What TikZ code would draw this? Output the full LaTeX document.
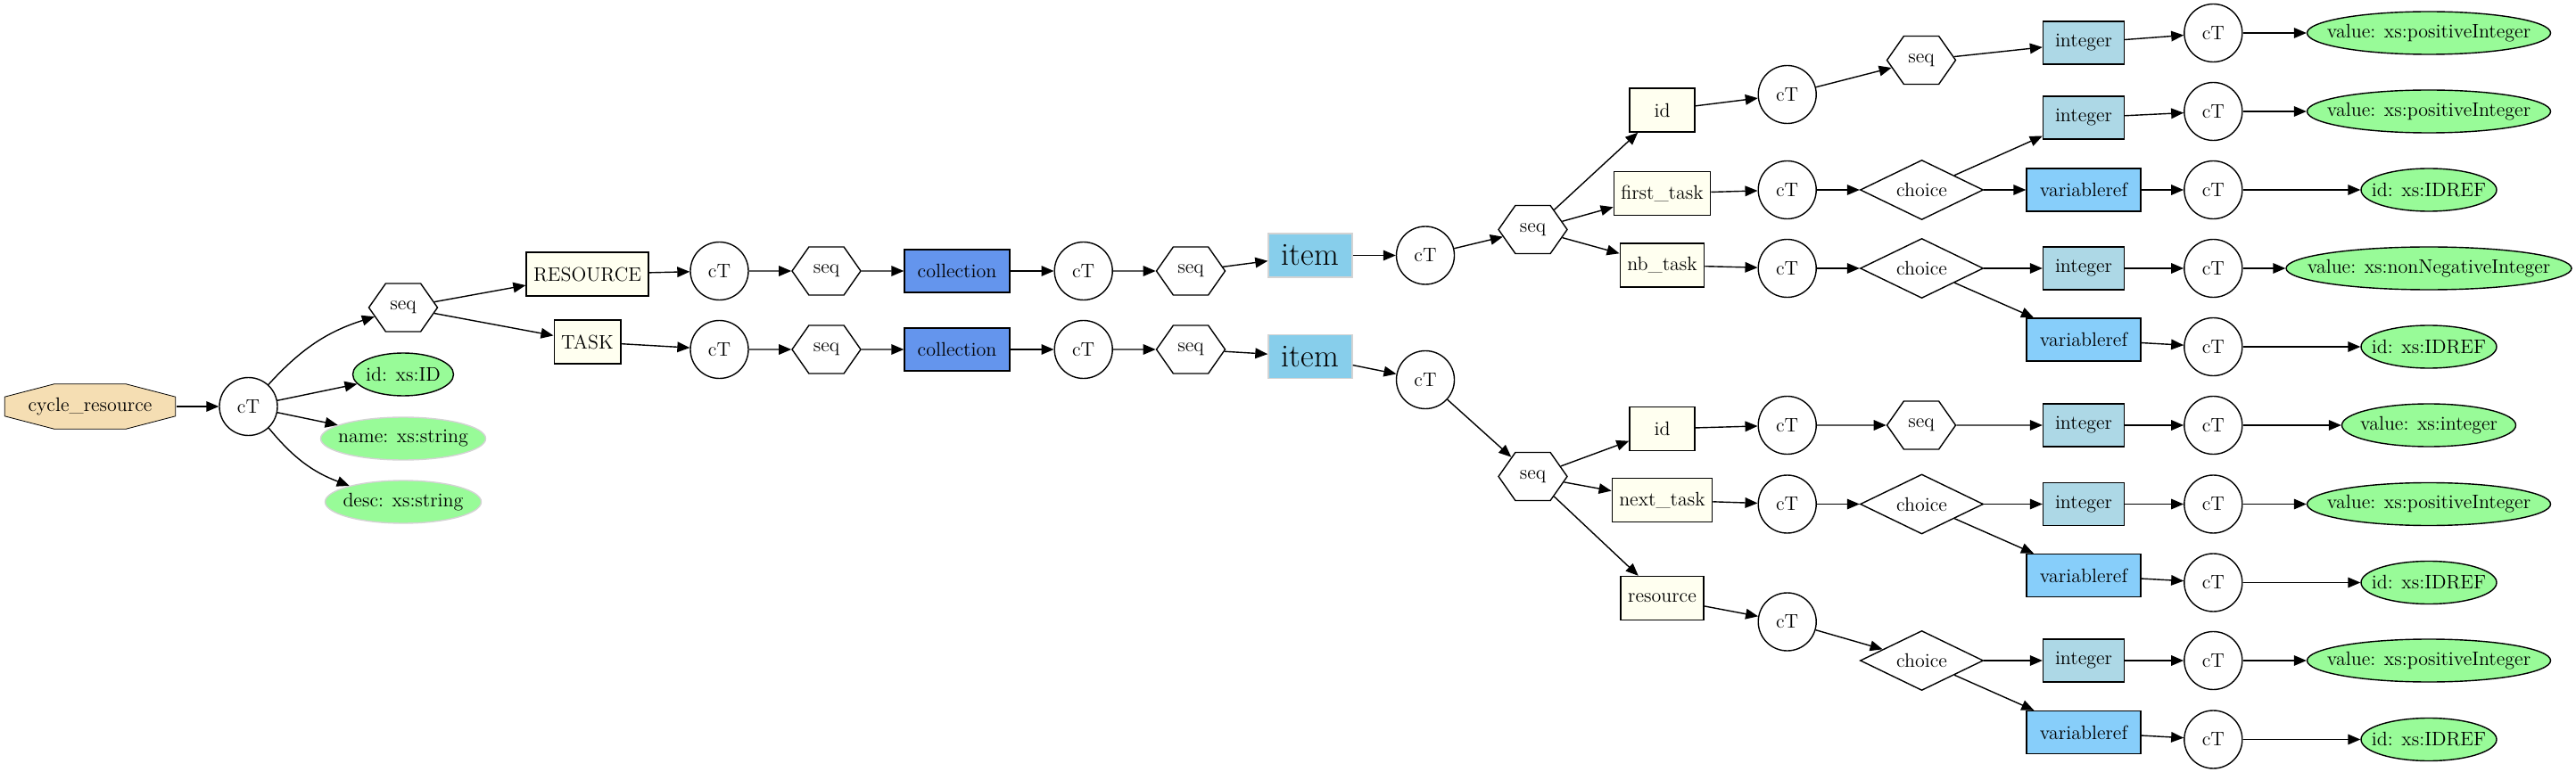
\documentclass[tikz,border=0pt]{standalone}
\usepackage{fontspec}
\usepackage{tikz}
\usetikzlibrary{arrows.meta, positioning, shapes.geometric, shapes.symbols, backgrounds}

\definecolor{wheat}{HTML}{F5DEB3}
\definecolor{palegreen}{HTML}{98FB98}
\definecolor{ivory}{HTML}{FFFFF0}
\definecolor{cornflower}{HTML}{6495ED}
\definecolor{skyblue}{HTML}{87CEEB}
\definecolor{lightblue}{HTML}{ADD8E6}
\definecolor{lightskyblue}{HTML}{87CEFA}
\definecolor{lightgrey}{HTML}{D3D3D3}

\begin{document}
\begin{tikzpicture}[on grid, >={Triangle[length=7pt, width=5.8pt]}, line width=0.7pt,
  font=\fontsize{11}{13}\selectfont,
  rootbox/.style={rectangle, minimum width=96.5pt, minimum height=26pt},
  ct/.style={circle, draw, fill=white, minimum size=32.5pt, inner sep=0pt},
  seqhex/.style={signal, signal to=east and west, signal pointer angle=110, draw, fill=white, minimum width=38.5pt, minimum height=27pt, inner sep=0pt},
  choicebox/.style={diamond, aspect=2, draw, fill=white, minimum width=69pt, minimum height=33.5pt, inner sep=0pt},
  elem/.style={rectangle, draw, fill=ivory, minimum width=36.5pt, minimum height=24.5pt, inner xsep=4pt},
  coll/.style={rectangle, draw, fill=cornflower, minimum width=59pt, minimum height=24pt},
  itembox/.style={rectangle, draw=lightgrey, fill=skyblue, minimum width=47pt, minimum height=24.5pt, inner sep=0pt, font=\fontsize{18}{21}\selectfont},
  intbox/.style={rectangle, draw, fill=lightblue, minimum width=45.5pt, minimum height=24pt},
  varbox/.style={rectangle, draw, fill=lightskyblue, minimum width=64pt, minimum height=24pt},
  attr/.style={ellipse, draw, fill=palegreen, inner xsep=-20pt, inner ysep=0pt, minimum height=24pt}]

\useasboundingbox (0,0) rectangle (1444pt,-433pt);

% root and its attributes
\node[rootbox] (CR) at (50.5pt,-228pt) {cycle\_resource};
\begin{scope}[on background layer]
\draw[shift={(CR.center)}, fill=wheat] (-20pt,12.65pt) -- (20pt,12.65pt) -- (47.9pt,5.4pt) -- (47.9pt,-5.4pt)
  -- (20pt,-12.65pt) -- (-20pt,-12.65pt) -- (-47.9pt,-5.4pt) -- (-47.9pt,5.4pt) -- cycle;
\end{scope}
\node[ct, right=88.75pt of CR] (CT) {cT};
\node[seqhex, above right=55.5pt and 86.75pt of CT] (Seq) {seq};
\node[attr, minimum width=56.5pt, above right=18pt and 86.75pt of CT] (AId) {id: xs:ID};
\node[attr, draw=lightgrey, minimum width=92.5pt, below right=18pt and 86.75pt of CT] (AName) {name: xs:string};
\node[attr, draw=lightgrey, minimum width=87.5pt, below right=53.5pt and 86.75pt of CT] (ADesc) {desc: xs:string};

% RESOURCE chain
\node[elem, above right=18.75pt and 103.25pt of Seq] (Res) {RESOURCE};
\node[ct, above right=1.75pt and 74pt of Res] (ResCT) {cT};
\node[seqhex, right=60pt of ResCT] (ResSeq) {seq};
\node[coll, right=73.25pt of ResSeq] (ResColl) {collection};
\node[ct, right=70.85pt of ResColl] (ResCT2) {cT};
\node[seqhex, right=60.15pt of ResCT2] (ResSeq2) {seq};
\node[itembox, above right=8.75pt and 67pt of ResSeq2] (ResItem) {item};
\node[ct, right=64.5pt of ResItem] (ResCT3) {cT};
\node[seqhex, above right=14.5pt and 60.25pt of ResCT3] (ResSeq3) {seq};

% TASK chain
\node[elem, below right=19.25pt and 103.25pt of Seq] (Task) {TASK};
\node[ct, below right=4.25pt and 74pt of Task] (TaskCT) {cT};
\node[seqhex, right=60pt of TaskCT] (TaskSeq) {seq};
\node[coll, right=73.25pt of TaskSeq] (TaskColl) {collection};
\node[ct, right=70.85pt of TaskColl] (TaskCT2) {cT};
\node[seqhex, right=60.15pt of TaskCT2] (TaskSeq2) {seq};
\node[itembox, below right=4pt and 67pt of TaskSeq2] (TaskItem) {item};
\node[ct, below right=13pt and 64.5pt of TaskItem] (TaskCT3) {cT};
\node[seqhex, below right=54.25pt and 60.25pt of TaskCT3] (TaskSeq3) {seq};

% resource item fields
\node[elem, above right=67pt and 72.5pt of ResSeq3] (RId) {id};
\node[elem, above right=20.25pt and 72.5pt of ResSeq3] (RFirst) {first\_task};
\node[elem, below right=20pt and 72.5pt of ResSeq3] (RNb) {nb\_task};
\node[ct, above right=8.75pt and 70.1pt of RId] (RIdCT) {cT};
\node[ct, above right=2pt and 70.1pt of RFirst] (RFirstCT) {cT};
\node[ct, below right=1.75pt and 70.1pt of RNb] (RNbCT) {cT};
\node[seqhex, above right=19.25pt and 75.15pt of RIdCT] (RIdSeq) {seq};
\node[choicebox, right=75.4pt of RFirstCT] (RFirstCh) {choice};
\node[choicebox, right=75.4pt of RNbCT] (RNbCh) {choice};
\node[intbox, above right=9.75pt and 91pt of RIdSeq] (Int1) {integer};
\node[intbox, above right=40.5pt and 90.75pt of RFirstCh] (Int2) {integer};
\node[varbox, right=90.75pt of RFirstCh] (Var1) {variableref};
\node[intbox, right=90.75pt of RNbCh] (Int3) {integer};
\node[varbox, below right=40pt and 90.75pt of RNbCh] (Var2) {variableref};

% task item fields
\node[elem, above right=26.75pt and 72.5pt of TaskSeq3] (TId) {id};
\node[elem, below right=13.25pt and 72.5pt of TaskSeq3] (TNext) {next\_task};
\node[elem, below right=68.25pt and 72.5pt of TaskSeq3] (TRes) {resource};
\node[ct, above right=2pt and 70.1pt of TId] (TIdCT) {cT};
\node[ct, below right=2.25pt and 70.1pt of TNext] (TNextCT) {cT};
\node[ct, below right=13.25pt and 70.1pt of TRes] (TResCT) {cT};
\node[seqhex, right=75.15pt of TIdCT] (TIdSeq) {seq};
\node[choicebox, right=75.4pt of TNextCT] (TNextCh) {choice};
\node[choicebox, below right=21.75pt and 75.4pt of TResCT] (TResCh) {choice};
\node[intbox, right=91pt of TIdSeq] (Int4) {integer};
\node[intbox, right=90.75pt of TNextCh] (Int5) {integer};
\node[varbox, below right=40pt and 90.75pt of TNextCh] (Var3) {variableref};
\node[intbox, right=90.75pt of TResCh] (Int6) {integer};
\node[varbox, below right=40.25pt and 90.75pt of TResCh] (Var4) {variableref};

% simple types
\node[ct, above right=5.5pt and 72.65pt of Int1] (LCT1) {cT};
\node[ct, above right=3.5pt and 72.65pt of Int2] (LCT2) {cT};
\node[ct, right=72.65pt of Var1] (LCT3) {cT};
\node[ct, right=72.65pt of Int3] (LCT4) {cT};
\node[ct, below right=4pt and 72.65pt of Var2] (LCT5) {cT};
\node[ct, right=72.65pt of Int4] (LCT6) {cT};
\node[ct, right=72.65pt of Int5] (LCT7) {cT};
\node[ct, below right=4pt and 72.65pt of Var3] (LCT8) {cT};
\node[ct, right=72.65pt of Int6] (LCT9) {cT};
\node[ct, below right=4pt and 72.65pt of Var4] (LCT10) {cT};
\node[attr, minimum width=136.5pt, right=120.85pt of LCT1] (Val1) {value: xs:positiveInteger};
\node[attr, minimum width=136.5pt, right=120.85pt of LCT2] (Val2) {value: xs:positiveInteger};
\node[attr, minimum width=76pt, right=120.85pt of LCT3] (Val3) {id: xs:IDREF};
\node[attr, minimum width=160pt, right=120.85pt of LCT4] (Val4) {value: xs:nonNegativeInteger};
\node[attr, minimum width=76pt, right=120.85pt of LCT5] (Val5) {id: xs:IDREF};
\node[attr, minimum width=97.5pt, right=120.85pt of LCT6] (Val6) {value: xs:integer};
\node[attr, minimum width=136.5pt, right=120.85pt of LCT7] (Val7) {value: xs:positiveInteger};
\node[attr, minimum width=76pt, right=120.85pt of LCT8] (Val8) {id: xs:IDREF};
\node[attr, minimum width=136.5pt, right=120.85pt of LCT9] (Val9) {value: xs:positiveInteger};
\node[attr, minimum width=76pt, right=120.85pt of LCT10] (Val10) {id: xs:IDREF};

\draw[->] (CR) -- (CT);
\draw[->] (CT) to[bend left=15] (Seq);
\draw[->] (CT) -- (AId);
\draw[->] (CT) -- (AName);
\draw[->] (CT) to[bend right=15] (ADesc);
\draw[->] (Seq) -- (Res);
\draw[->] (Seq) -- (Task);

\draw[->] (Res) -- (ResCT);
\draw[->] (ResCT) -- (ResSeq);
\draw[->] (ResSeq) -- (ResColl);
\draw[->] (ResColl) -- (ResCT2);
\draw[->] (ResCT2) -- (ResSeq2);
\draw[->] (ResSeq2) -- (ResItem);
\draw[->] (ResItem) -- (ResCT3);
\draw[->] (ResCT3) -- (ResSeq3);

\draw[->] (Task) -- (TaskCT);
\draw[->] (TaskCT) -- (TaskSeq);
\draw[->] (TaskSeq) -- (TaskColl);
\draw[->] (TaskColl) -- (TaskCT2);
\draw[->] (TaskCT2) -- (TaskSeq2);
\draw[->] (TaskSeq2) -- (TaskItem);
\draw[->] (TaskItem) -- (TaskCT3);
\draw[->] (TaskCT3) -- (TaskSeq3);

\draw[->] (ResSeq3) -- (RId);
\draw[->] (ResSeq3) -- (RFirst);
\draw[->] (ResSeq3) -- (RNb);
\draw[->] (RId) -- (RIdCT);
\draw[->] (RFirst) -- (RFirstCT);
\draw[->] (RNb) -- (RNbCT);
\draw[->] (RIdCT) -- (RIdSeq);
\draw[->] (RFirstCT) -- (RFirstCh);
\draw[->] (RNbCT) -- (RNbCh);
\draw[->] (RIdSeq) -- (Int1);
\draw[->] (RFirstCh) -- (Int2);
\draw[->] (RFirstCh) -- (Var1);
\draw[->] (RNbCh) -- (Int3);
\draw[->] (RNbCh) -- (Var2);

\draw[->] (TaskSeq3) -- (TId);
\draw[->] (TaskSeq3) -- (TNext);
\draw[->] (TaskSeq3) -- (TRes);
\draw[->] (TId) -- (TIdCT);
\draw[->] (TNext) -- (TNextCT);
\draw[->] (TRes) -- (TResCT);
\draw[->] (TIdCT) -- (TIdSeq);
\draw[->] (TNextCT) -- (TNextCh);
\draw[->] (TResCT) -- (TResCh);
\draw[->] (TIdSeq) -- (Int4);
\draw[->] (TNextCh) -- (Int5);
\draw[->] (TNextCh) -- (Var3);
\draw[->] (TResCh) -- (Int6);
\draw[->] (TResCh) -- (Var4);

\draw[->] (Int1) -- (LCT1);
\draw[->] (Int2) -- (LCT2);
\draw[->] (Var1) -- (LCT3);
\draw[->] (Int3) -- (LCT4);
\draw[->] (Var2) -- (LCT5);
\draw[->] (Int4) -- (LCT6);
\draw[->] (Int5) -- (LCT7);
\draw[->] (Var3) -- (LCT8);
\draw[->] (Int6) -- (LCT9);
\draw[->] (Var4) -- (LCT10);
\draw[->] (LCT1) -- (Val1);
\draw[->] (LCT2) -- (Val2);
\draw[->] (LCT3) -- (Val3);
\draw[->] (LCT4) -- (Val4);
\draw[->] (LCT5) -- (Val5);
\draw[->] (LCT6) -- (Val6);
\draw[->] (LCT7) -- (Val7);
\draw[->] (LCT8) -- (Val8);
\draw[->] (LCT9) -- (Val9);
\draw[->] (LCT10) -- (Val10);

\end{tikzpicture}
\end{document}
